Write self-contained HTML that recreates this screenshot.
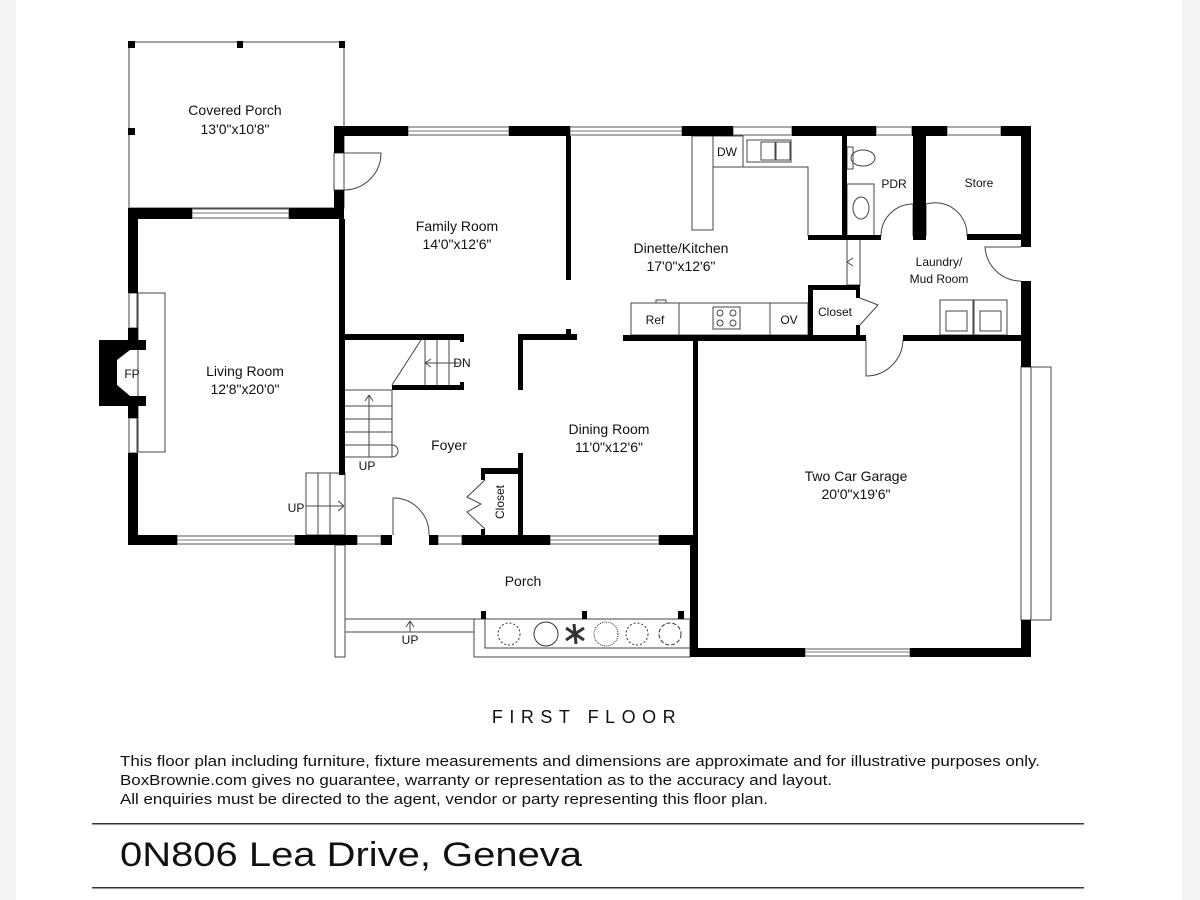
<!DOCTYPE html>
<html><head><meta charset="utf-8"><style>
html,body{margin:0;padding:0;background:#fff}
svg{display:block}
text{font-family:"Liberation Sans",Arial,sans-serif;fill:#111}
</style></head><body>
<svg width="1200" height="900" viewBox="0 0 1200 900" xmlns="http://www.w3.org/2000/svg">
<rect x="0" y="0" width="1200" height="900" fill="#fff"/>
<rect x="0" y="0" width="16" height="900" fill="#f3f3f5"/>
<rect x="1182" y="0" width="18" height="900" fill="#f3f3f5"/>

<g fill="none" stroke="#444" stroke-width="1">
<rect x="129" y="42" width="215" height="166"/>
<rect x="138" y="293" width="27" height="159"/>
<rect x="129" y="293" width="8" height="35"/><rect x="129" y="418" width="8" height="35"/>
<rect x="334" y="153" width="10" height="37"/>
<path d="M344 153 H381 A37 37 0 0 1 344 190"/>
<path d="M421 340 L392 385 M425 340 V385 M437 340 V385 M449 340 V385 M425 363 H460 M425 363 l6 -4 M425 363 l6 4"/>
<rect x="344" y="390" width="48" height="67"/>
<path d="M344 406 H392 M344 419 H392 M344 432 H392 M344 445 H392 M369 395 V457 M369 395 l-4 6 M369 395 l4 6 M392 445 a6 6 0 0 1 0 12"/>
<rect x="306" y="473" width="39" height="62"/>
<path d="M318 473 V535 M330 473 V535 M306 506 H344 M344 506 l-6 -5 M344 506 l-6 5"/>
<path d="M393 535 V498 H396 A36 36 0 0 1 429 535"/>
<path d="M485 480 L467 497 L481 504 L467 512 L485 529"/>
<rect x="335" y="545" width="10" height="112"/>
<path d="M345 619 H474 M345 632 H474 M410 621 V632 M410 621 l-4 6 M410 621 l4 6"/>
<rect x="474" y="619" width="216" height="38"/>
<rect x="485" y="619" width="205" height="29"/>
<rect x="692" y="136" width="21" height="94"/>
<path d="M713 136 V167 H808 V236"/>
<rect x="713" y="136" width="30" height="31"/>
<rect x="747" y="140" width="44" height="22"/>
<rect x="761" y="142" width="14" height="18"/><rect x="776" y="142" width="14" height="18"/>
<rect x="631" y="303" width="177" height="32"/>
<path d="M679 303 V335 M770 303 V335 M656 303 v-3 h10 v3"/>
<rect x="713" y="307" width="27" height="22"/>
<circle cx="720" cy="313" r="3"/><circle cx="733" cy="313" r="3"/><circle cx="720" cy="323" r="3"/><circle cx="733" cy="323" r="3"/>
<ellipse cx="863" cy="158" rx="12" ry="8"/><rect x="847" y="147" width="6" height="22"/>
<rect x="847" y="184" width="27" height="52"/><ellipse cx="861" cy="208" rx="8" ry="11"/>
<path d="M881 236 A32 32 0 0 1 913 204 V236 M926 236 V204 A32 32 0 0 1 967 236"/>
<path d="M847 240 V285 H860 V240 M847 262 l6 -4 M847 262 l6 4"/>
<path d="M1021 247 H985 A36 36 0 0 0 1021 281"/>
<path d="M860 298 L878 305 L860 325"/>
<path d="M866 340 V376 A37 37 0 0 0 903 340"/>
<rect x="940" y="300" width="33" height="35"/><rect x="974" y="300" width="33" height="35"/>
<rect x="946" y="311" width="21" height="20"/><rect x="980" y="311" width="21" height="20"/>
<rect x="1021" y="367" width="30" height="253"/><path d="M1031 367 V620"/>
</g>

<g fill="#fff" stroke="#555" stroke-width="1">
<rect x="408" y="127" width="101" height="8"/>
<rect x="570" y="127" width="112" height="8"/>
<rect x="733" y="127" width="59" height="8"/>
<rect x="876" y="127" width="36" height="8"/>
<rect x="947" y="127" width="54" height="8"/>
<rect x="192" y="209" width="97" height="9"/>
<rect x="177" y="536" width="118" height="8"/>
<rect x="357" y="536" width="24" height="8"/>
<rect x="438" y="536" width="24" height="8"/>
<rect x="550" y="536" width="109" height="8"/>
<rect x="805" y="649" width="105" height="7"/>
</g>
<g stroke="#777" stroke-width="1"><path d="M408 131 H509 M570 131 H682 M192 213 H289 M177 540 H295 M550 540 H659 M805 652 H910"/></g>

<g fill="#000">
<rect x="128" y="41" width="7" height="7"/><rect x="237" y="41" width="6" height="7"/><rect x="339" y="41" width="6" height="7"/><rect x="128" y="128" width="7" height="7"/>
<rect x="334" y="126" width="74" height="10"/>
<rect x="509" y="126" width="61" height="10"/>
<rect x="682" y="126" width="51" height="10"/>
<rect x="792" y="126" width="84" height="10"/>
<rect x="912" y="126" width="35" height="10"/>
<rect x="1001" y="126" width="30" height="10"/>
<rect x="334" y="126" width="10" height="27"/>
<rect x="334" y="190" width="10" height="29"/>
<rect x="128" y="208" width="64" height="11"/><rect x="289" y="208" width="55" height="11"/>
<rect x="128" y="208" width="10" height="85"/>
<rect x="128" y="328" width="10" height="12"/>
<rect x="128" y="406" width="10" height="12"/>
<rect x="128" y="453" width="10" height="92"/>
<path d="M99 340 H146 V350 H130 L117 360 V385 L130 396 H146 V406 H99 Z"/>
<rect x="339" y="219" width="6" height="256"/>
<rect x="128" y="535" width="49" height="10"/>
<rect x="295" y="535" width="62" height="10"/>
<rect x="381" y="535" width="11" height="10"/>
<rect x="429" y="535" width="9" height="10"/>
<rect x="462" y="535" width="88" height="10"/>
<rect x="659" y="535" width="38" height="10"/>
<rect x="566" y="136" width="5" height="144"/>
<rect x="566" y="329" width="5" height="6"/>
<rect x="518" y="334" width="59" height="6"/>
<rect x="518" y="334" width="5" height="56"/>
<rect x="344" y="334" width="120" height="6"/>
<rect x="460" y="334" width="4" height="8"/>
<rect x="392" y="385" width="72" height="5"/>
<rect x="460" y="382" width="4" height="8"/>
<rect x="518" y="453" width="5" height="82"/>
<rect x="481" y="468" width="42" height="6"/>
<rect x="481" y="468" width="4" height="12"/>
<rect x="481" y="529" width="4" height="6"/>
<rect x="623" y="335" width="243" height="6"/>
<rect x="903" y="335" width="127" height="6"/>
<rect x="693" y="335" width="5" height="322"/>
<rect x="690" y="540" width="7" height="117"/>
<rect x="690" y="648" width="115" height="9"/>
<rect x="910" y="648" width="120" height="9"/>
<rect x="1021" y="126" width="10" height="121"/>
<rect x="1021" y="281" width="10" height="86"/>
<rect x="1021" y="620" width="10" height="37"/>
<rect x="842" y="136" width="5" height="104"/>
<rect x="808" y="235" width="73" height="5"/>
<rect x="913" y="136" width="4" height="104"/>
<rect x="917" y="136" width="4" height="104"/>
<rect x="921" y="136" width="5" height="104"/>
<rect x="913" y="235" width="13" height="5"/>
<rect x="967" y="234" width="55" height="6"/>
<rect x="808" y="285" width="5" height="52"/>
<rect x="808" y="285" width="52" height="5"/>
<rect x="856" y="285" width="4" height="13"/>
<rect x="856" y="325" width="4" height="12"/>
<rect x="481" y="611" width="5" height="8"/><rect x="582" y="611" width="5" height="8"/><rect x="678" y="611" width="6" height="8"/>
</g>

<g stroke="#333" fill="none" stroke-width="1">
<circle cx="509" cy="634" r="11" stroke-dasharray="2 2"/>
<circle cx="546" cy="634" r="12"/>
<path d="M574 624 L576 644 M566 628 L584 640 M566 640 L584 628" stroke-width="3"/>
<circle cx="606" cy="634" r="12" stroke-dasharray="1 1"/>
<circle cx="637" cy="634" r="11" stroke-dasharray="2 2"/>
<circle cx="670" cy="634" r="11" stroke-dasharray="4 2"/>
</g>

<g font-size="14" text-anchor="middle">
<text x="235" y="115">Covered Porch</text><text x="235" y="134">13'0"x10'8"</text>
<text x="457" y="231">Family Room</text><text x="457" y="249">14'0"x12'6"</text>
<text x="245" y="376">Living Room</text><text x="245" y="394">12'8"x20'0"</text>
<text x="681" y="253">Dinette/Kitchen</text><text x="681" y="271">17'0"x12'6"</text>
<text x="609" y="434">Dining Room</text><text x="609" y="452">11'0"x12'6"</text>
<text x="856" y="481">Two Car Garage</text><text x="856" y="499">20'0"x19'6"</text>
<text x="449" y="450">Foyer</text>
<text x="523" y="586">Porch</text>
</g>
<g font-size="12" text-anchor="middle">
<text x="132" y="378">FP</text>
<text x="462" y="367">DN</text>
<text x="367" y="470">UP</text>
<text x="296" y="512">UP</text>
<text x="410" y="644">UP</text>
<text x="727" y="156">DW</text>
<text x="894" y="188">PDR</text>
<text x="979" y="187">Store</text>
<text x="939" y="266">Laundry/</text><text x="939" y="283">Mud Room</text>
<text x="655" y="324">Ref</text>
<text x="789" y="324">OV</text>
<text x="835" y="316">Closet</text>
<text x="504" y="502" transform="rotate(-90 504 502)">Closet</text>
</g>

<text x="587" y="723" font-size="18" text-anchor="middle" letter-spacing="6.5">FIRST FLOOR</text>
<g font-size="15">
<text x="120" y="766" textLength="920" lengthAdjust="spacingAndGlyphs">This floor plan including furniture, fixture measurements and dimensions are approximate and for illustrative purposes only.</text>
<text x="120" y="785" textLength="712" lengthAdjust="spacingAndGlyphs">BoxBrownie.com gives no guarantee, warranty or representation as to the accuracy and layout.</text>
<text x="120" y="804" textLength="648" lengthAdjust="spacingAndGlyphs">All enquiries must be directed to the agent, vendor or party representing this floor plan.</text>
</g>
<rect x="92" y="823" width="992" height="1.5" fill="#333"/>
<text x="120" y="866" font-size="34" textLength="462" lengthAdjust="spacingAndGlyphs">0N806 Lea Drive, Geneva</text>
<rect x="92" y="887" width="992" height="1.5" fill="#333"/>
</svg>
</body></html>
